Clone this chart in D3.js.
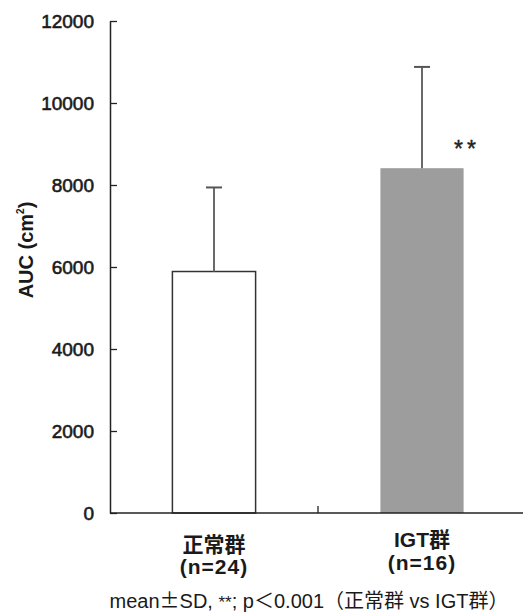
<!DOCTYPE html>
<html>
<head>
<meta charset="utf-8">
<script src="https://cdn.jsdelivr.net/npm/d3@7"></script>
<style>
  body { margin: 0; background: #fff; }
  svg text { font-family: "Liberation Sans", Arial, "Noto Sans CJK JP", sans-serif; }
</style>
</head>
<body>
<script>
// AUC bar chart, mean + SD

var w = 523;
var h = 615;

// data
var groups = ["正常群", "IGT群"];
var counts = ["(n=24)", "(n=16)"];
var means = [5890, 8410];
var sds = [2050, 2470];
var yTicks = [0, 2000, 4000, 6000, 8000, 10000, 12000];
var barColors = ["#ffffff", "#9d9d9d"];

var svg = d3.select("body")
    .append("svg")
    .attr("width", w)
    .attr("height", h);

var y = d3.scaleLinear()
    .domain([0, 12000])
    .range([513, 21]);

var x = d3.scaleBand()
    .domain(groups)
    .range([110, 526])
    .paddingInner(0.6)
    .paddingOuter(0.3);

// y axis, ticks point inward
var yAxis = svg.append("g")
    .attr("transform", "translate(110,0)")
    .call(d3.axisLeft(y)
        .tickValues(yTicks)
        .tickSizeInner(-7)
        .tickSizeOuter(0)
        .tickPadding(16)
        .tickFormat(d3.format("d")));

yAxis.select(".domain").attr("stroke", "#222").attr("stroke-width", 1.5);
yAxis.selectAll(".tick line").attr("stroke", "#222").attr("stroke-width", 1.3);
yAxis.selectAll(".tick text")
    .attr("font-size", "19px")
    .attr("fill", "#1a1a1a")
    .attr("stroke", "#1a1a1a")
    .attr("stroke-width", 0.6)
    .attr("dy", "0.36em")
    .attr("font-family", "'Liberation Sans', Arial, sans-serif");

// bars
svg.selectAll("rect.bar")
   .data(means)
   .enter()
   .append("rect")
   .attr("class", "bar")
   .attr("x", function(d, i) { return x(groups[i]); })
   .attr("y", function(d) { return y(d); })
   .attr("width", x.bandwidth())
   .attr("height", function(d) { return y(0) - y(d); })
   .attr("fill", function(d, i) { return barColors[i]; })
   .attr("stroke", function(d, i) { return i == 0 ? "#333" : "none"; })
   .attr("stroke-width", 1.5);

// error bars (upper only)
svg.selectAll("line.err")
   .data(means)
   .enter()
   .append("line")
   .attr("class", "err")
   .attr("x1", function(d, i) { return x(groups[i]) + x.bandwidth() / 2; })
   .attr("x2", function(d, i) { return x(groups[i]) + x.bandwidth() / 2; })
   .attr("y1", function(d) { return y(d); })
   .attr("y2", function(d, i) { return y(d + sds[i]); })
   .attr("stroke", "#6a6a6a")
   .attr("stroke-width", 2);

svg.selectAll("line.cap")
   .data(means)
   .enter()
   .append("line")
   .attr("class", "cap")
   .attr("x1", function(d, i) { return x(groups[i]) + x.bandwidth() / 2 - 8; })
   .attr("x2", function(d, i) { return x(groups[i]) + x.bandwidth() / 2 + 8; })
   .attr("y1", function(d, i) { return y(d + sds[i]); })
   .attr("y2", function(d, i) { return y(d + sds[i]); })
   .attr("stroke", "#555")
   .attr("stroke-width", 2);

// x axis line and the separator tick between groups
svg.append("line")
   .attr("x1", 110).attr("x2", w)
   .attr("y1", y(0)).attr("y2", y(0))
   .attr("stroke", "#222")
   .attr("stroke-width", 1.5);

var sep = x(groups[0]) + x.bandwidth() + (x(groups[1]) - x(groups[0]) - x.bandwidth()) / 2;
svg.append("line")
   .attr("x1", sep).attr("x2", sep)
   .attr("y1", y(0)).attr("y2", y(0) - 7)
   .attr("stroke", "#222")
   .attr("stroke-width", 1.3);

// significance mark
svg.append("text")
   .text("**")
   .attr("x", 454)
   .attr("y", 157)
   .attr("font-family", "'DejaVu Sans', sans-serif")
   .attr("font-size", "23px")
   .attr("letter-spacing", "4px")
   .attr("fill", "#222")
   .attr("stroke", "#222")
   .attr("stroke-width", 0.4);

// category labels
svg.selectAll("text.cat")
   .data(groups)
   .enter()
   .append("text")
   .attr("class", "cat")
   .text(function(d) { return d; })
   .attr("x", function(d) { return x(d) + x.bandwidth() / 2; })
   .attr("y", function(d, i) { return i == 0 ? 552 : 547; })
   .attr("text-anchor", "middle")
   .attr("font-size", "21px")
   .attr("font-weight", "bold")
   .attr("fill", "#1a1a1a");

svg.selectAll("text.n")
   .data(counts)
   .enter()
   .append("text")
   .attr("class", "n")
   .text(function(d) { return d; })
   .attr("x", function(d, i) { return x(groups[i]) + x.bandwidth() / 2; })
   .attr("y", function(d, i) { return i == 0 ? 574 : 570; })
   .attr("text-anchor", "middle")
   .attr("font-size", "21px")
   .attr("font-weight", "bold")
   .attr("letter-spacing", "1px")
   .attr("fill", "#1a1a1a");

// y label
svg.append("text")
   .attr("transform", "translate(33,250) rotate(-90)")
   .attr("text-anchor", "middle")
   .attr("font-size", "20px")
   .attr("font-weight", "bold")
   .attr("fill", "#1a1a1a")
   .text("AUC (cm")
   .append("tspan")
   .attr("font-size", "10px")
   .attr("dy", -9)
   .text("2")
   .select(function() { return this.parentNode; })
   .append("tspan")
   .attr("dy", 9)
   .text(")");

// footnote
var note = svg.append("text")
   .attr("x", 309)
   .attr("y", 608)
   .attr("text-anchor", "middle")
   .attr("font-size", "20px")
   .attr("fill", "#1a1a1a");
note.append("tspan").text("mean");
note.append("tspan").attr("font-family", "'Noto Sans CJK JP', sans-serif").text("±");
note.append("tspan").text("SD, ");
note.append("tspan").attr("font-size", "17px").text("**");
note.append("tspan").text("; p＜0.001（正常群 vs IGT群）");
</script>
</body>
</html>
